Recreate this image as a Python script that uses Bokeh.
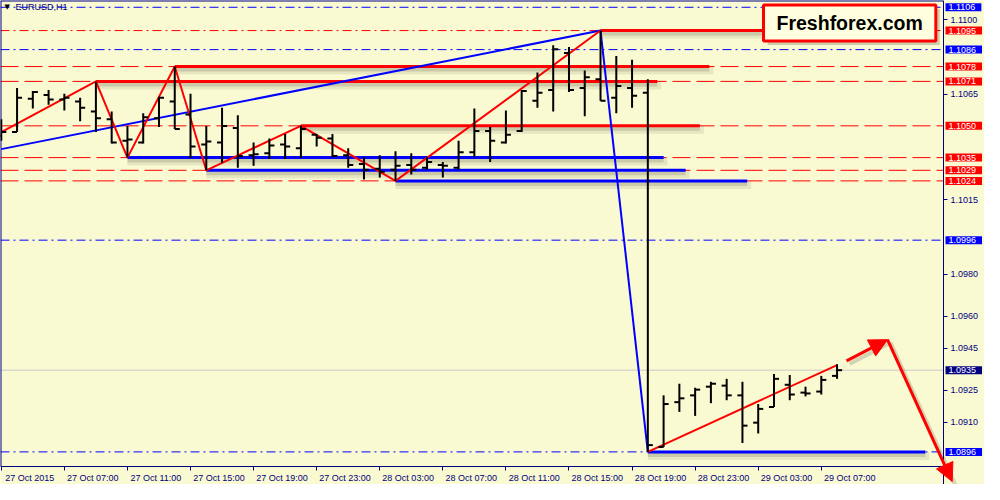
import numpy as np
from bokeh.plotting import figure
from bokeh.models import (Range1d, LinearAxis, FixedTicker, Label, Arrow,
                          NormalHead, PrintfTickFormatter)
from bokeh.embed import file_html
from bokeh.resources import INLINE

# EURUSD H1, one bar per hour from 27 Oct 03:00 to 29 Oct 08:00
opens = [1.10453, 1.10471, 1.10628, 1.10646, 1.10624, 1.10615, 1.10568, 1.10531, 1.10430, 1.10421,
         1.10536, 1.10615, 1.10554, 1.10412, 1.10421, 1.10490, 1.10361, 1.10370, 1.10412, 1.10394,
         1.10458, 1.10440, 1.10361, 1.10320, 1.10297, 1.10293, 1.10315, 1.10302, 1.10315, 1.10302,
         1.10375, 1.10476, 1.10421, 1.10476, 1.10619, 1.10669, 1.10844, 1.10679, 1.10720, 1.10633,
         1.10679, 1.10656, 1.08983, 1.09195, 1.09227, 1.09268, 1.09273, 1.09227, 1.09098, 1.09172,
         1.09277, 1.09240, 1.09245, 1.09319]
highs = [1.10531, 1.10679, 1.10665, 1.10669, 1.10651, 1.10633, 1.10710, 1.10568, 1.10499, 1.10559,
         1.10637, 1.10780, 1.10651, 1.10499, 1.10586, 1.10550, 1.10421, 1.10440, 1.10462, 1.10500,
         1.10462, 1.10462, 1.10394, 1.10352, 1.10361, 1.10380, 1.10370, 1.10352, 1.10329, 1.10430,
         1.10582, 1.10495, 1.10573, 1.10669, 1.10752, 1.10881, 1.10872, 1.10761, 1.10950, 1.10830,
         1.10812, 1.10720, 1.09227, 1.09282, 1.09263, 1.09291, 1.09305, 1.09291, 1.09186, 1.09328,
         1.09323, 1.09268, 1.09319, 1.09374]
lows = [1.10430, 1.10471, 1.10582, 1.10600, 1.10573, 1.10522, 1.10471, 1.10416, 1.10350, 1.10416,
        1.10495, 1.10485, 1.10348, 1.10290, 1.10324, 1.10302, 1.10311, 1.10343, 1.10343, 1.10348,
        1.10403, 1.10352, 1.10302, 1.10247, 1.10256, 1.10240, 1.10270, 1.10293, 1.10256, 1.10293,
        1.10352, 1.10329, 1.10416, 1.10471, 1.10586, 1.10568, 1.10660, 1.10545, 1.10619, 1.10559,
        1.10586, 1.08960, 1.08983, 1.09149, 1.09130, 1.09190, 1.09204, 1.09002, 1.09047, 1.09172,
        1.09204, 1.09222, 1.09231, 1.09305]
closes = [1.10471, 1.10633, 1.10660, 1.10624, 1.10633, 1.10586, 1.10536, 1.10421, 1.10435, 1.10540,
          1.10633, 1.10485, 1.10403, 1.10426, 1.10499, 1.10357, 1.10366, 1.10407, 1.10403, 1.10485,
          1.10444, 1.10357, 1.10315, 1.10293, 1.10283, 1.10311, 1.10293, 1.10329, 1.10311, 1.10375,
          1.10476, 1.10430, 1.10458, 1.10665, 1.10656, 1.10862, 1.10669, 1.10729, 1.10619, 1.10688,
          1.10642, 1.08992, 1.09186, 1.09213, 1.09254, 1.09282, 1.09227, 1.09084, 1.09163, 1.09305,
          1.09231, 1.09236, 1.09300, 1.09346]

time_ticks = [0, 4, 8, 12, 16, 20, 24, 28, 32, 36, 40, 44, 48, 52]
time_labels = ["27 Oct 2015", "27 Oct 07:00", "27 Oct 11:00", "27 Oct 15:00", "27 Oct 19:00",
               "27 Oct 23:00", "28 Oct 03:00", "28 Oct 07:00", "28 Oct 11:00", "28 Oct 15:00",
               "28 Oct 19:00", "28 Oct 23:00", "29 Oct 03:00", "29 Oct 07:00"]
price_ticks = [1.1100, 1.1065, 1.1015, 1.0980, 1.0960, 1.0945, 1.0925, 1.0910]

# horizontal levels
blue_levels = [1.1106, 1.1086, 1.0996, 1.0896]
red_dashdot_levels = [1.1095]
red_levels = [1.1078, 1.1071, 1.1050, 1.1035, 1.1029, 1.1024]

# zigzag pivots (bar index, price)
zz_idx = [0, 6, 8, 11, 13, 19, 25, 38]
zz_price = [1.1047, 1.1071, 1.1035, 1.1078, 1.1029, 1.1050, 1.1024, 1.1095]
trend_idx = [0, 38]
trend_price = [1.1039, 1.1095]
drop_idx = [38, 41]
drop_price = [1.1095, 1.0896]
rise_idx = [41, 53]
rise_price = [1.0896, 1.0937]

# thick support / resistance segments: start bar, end bar, price
red_seg_start = [38, 11, 6, 19]
red_seg_end = [48.8, 44.9, 41.6, 44.3]
red_seg_price = [1.1095, 1.1078, 1.1071, 1.1050]
blue_seg_start = [8, 13, 25, 41]
blue_seg_end = [42.0, 43.4, 47.3, 58.6]
blue_seg_price = [1.1035, 1.1029, 1.1024, 1.0896]

# forecast arrows
arrow1_x = [53.6, 56.2]
arrow1_y = [1.0939, 1.0949]
arrow2_x = [56.2, 60.3]
arrow2_y = [1.0949, 1.0882]

BG = "#FAFAD2"
NAVY = "#000080"
FONT = "Liberation Sans"

W, H = 984, 484
chart_w, chart_h = 943, 466          # price area inside the canvas, px
x0, chart_right = -0.05, 59.75
y_top, y_bot = 1.11092, 1.08891
x_end = x0 + (chart_right - x0) * W / chart_w
y_start = y_top - (y_top - y_bot) * H / chart_h
px = (y_top - y_bot) / chart_h       # price per pixel
bx_px = (chart_right - x0) / chart_w  # bars per pixel

p = figure(width=W, height=H, output_backend="svg", toolbar_location=None,
           x_range=Range1d(x0, x_end), y_range=Range1d(y_start, y_top),
           x_axis_location=None, y_axis_location=None,
           background_fill_color=BG, border_fill_color=BG, min_border=0)
p.grid.visible = False
p.outline_line_color = None

# price axis along the right edge of the chart
ya = LinearAxis(fixed_location=chart_right, ticker=FixedTicker(ticks=price_ticks),
                formatter=PrintfTickFormatter(format="%.4f"))
ya.axis_line_color = NAVY
ya.major_tick_line_color = NAVY
ya.major_tick_out = 4
ya.major_tick_in = 0
ya.minor_tick_line_color = None
ya.major_label_standoff = 3
ya.major_label_text_color = NAVY
ya.major_label_text_font = FONT
ya.major_label_text_font_size = "9px"
p.add_layout(ya, "right")

# time axis: tick marks at bars (minor), labels just right of them (major)
lab_shift = 1.8
lab_pos = [t + lab_shift for t in time_ticks]
xa = LinearAxis(fixed_location=y_bot, bounds=(x0, chart_right),
                ticker=FixedTicker(ticks=lab_pos, minor_ticks=time_ticks),
                major_label_overrides={pos: lab for pos, lab in zip(lab_pos, time_labels)})
xa.axis_line_color = NAVY
xa.major_tick_line_color = None
xa.major_tick_out = 4
xa.major_tick_in = 0
xa.minor_tick_line_color = NAVY
xa.minor_tick_out = 4
xa.minor_tick_in = 0
xa.major_label_standoff = 2
xa.major_label_text_color = NAVY
xa.major_label_text_font = FONT
xa.major_label_text_font_size = "9px"
p.add_layout(xa, "below")

# chart border (left, top)
p.segment([x0, x0], [y_bot, y_top], [x0, chart_right], [y_top, y_top],
          line_color=NAVY, line_width=2)

# level lines
def levels(vals, color, dash):
    n = len(vals)
    p.segment([x0] * n, vals, [chart_right] * n, vals, line_color=color, line_width=1,
              line_dash=dash, level="underlay")

levels(blue_levels, "blue", "9 4 2 4")
levels(red_dashdot_levels, "red", "9 4 2 4")
levels(red_levels, "red", "18 6")
p.segment([x0], [closes[-1]], [chart_right], [closes[-1]], line_color="#C8C8C8",
          line_width=1, level="underlay")

# thick segments with a soft shadow
for starts, ends, prices, col in [(red_seg_start, red_seg_end, red_seg_price, "red"),
                                  (blue_seg_start, blue_seg_end, blue_seg_price, "blue")]:
    sh = [v - 4 * px for v in prices]
    p.segment(starts, sh, [e + 0.25 for e in ends], sh, line_color="black",
              line_alpha=0.08, line_width=8)
    sh2 = [v - 3 * px for v in prices]
    p.segment(starts, sh2, ends, sh2, line_color="black", line_alpha=0.12, line_width=4)
    p.segment(starts, prices, ends, prices, line_color=col, line_width=3)

# trend / zigzag lines
p.line(trend_idx, trend_price, line_color="blue", line_width=2)
p.line(drop_idx, drop_price, line_color="blue", line_width=2)
p.line(zz_idx, zz_price, line_color="red", line_width=2)
p.line(rise_idx, rise_price, line_color="red", line_width=2)

# OHLC bars
idx = np.arange(len(opens))
p.segment(idx, lows, idx, highs, line_color="black", line_width=2)
p.segment(idx - 0.32, opens, idx, opens, line_color="black", line_width=2)
p.segment(idx, closes, idx + 0.32, closes, line_color="black", line_width=2)

# arrows with shadow
for ax, ay in [(arrow1_x, arrow1_y), (arrow2_x, arrow2_y)]:
    p.line([v + 3 * bx_px for v in ax], [v - 3 * px for v in ay], line_color="black",
           line_alpha=0.15, line_width=4)
    p.add_layout(Arrow(x_start=ax[0], y_start=ay[0], x_end=ax[1], y_end=ay[1],
                       line_color="red", line_width=3,
                       end=NormalHead(size=18, fill_color="red", line_color="red")))

# price tags on the axis
tag_levels = blue_levels + red_dashdot_levels + red_levels + [closes[-1]]
tag_colors = (["blue"] * len(blue_levels) + ["red"] * len(red_dashdot_levels)
              + ["red"] * len(red_levels) + [NAVY])
for lv, col in zip(tag_levels, tag_colors):
    p.add_layout(Label(x=chart_right, y=lv, x_offset=2, text=f"{lv:.4f}", text_align="left",
                       text_baseline="middle", text_color="white", text_font=FONT,
                       text_font_size="9px", background_fill_color=col,
                       padding=dict(left=3, right=6, top=1, bottom=1)))

# symbol title
p.add_layout(Label(x=0.2, y=1.1106, text="\u25bc", text_font_size="7px", text_color="black",
                   text_baseline="middle", text_font="DejaVu Sans"))
p.add_layout(Label(x=0.9, y=1.1106, text="EURUSD,H1", text_font_size="9px", text_color=NAVY,
                   text_baseline="middle", text_font=FONT))

# brand box with shadow
bx, by = 53.8, 1.10986
box_w, box_h = 172, 36
p.quad(left=[bx - box_w / 2 * bx_px + 4 * bx_px], right=[bx + box_w / 2 * bx_px + 4 * bx_px],
       top=[by + box_h / 2 * px - 4 * px], bottom=[by - box_h / 2 * px - 4 * px],
       fill_color="black", fill_alpha=0.18, line_color=None)
p.add_layout(Label(x=bx, y=by, text="Freshforex.com", text_font=FONT,
                   text_font_style="bold", text_font_size="19.5px", text_color="black",
                   text_align="center", text_baseline="middle",
                   background_fill_color="#FFFFE0", border_line_color="red",
                   border_line_width=3,
                   padding=dict(left=13, right=13, top=7, bottom=7)))

open("out.html", "w").write(file_html(p, INLINE))
